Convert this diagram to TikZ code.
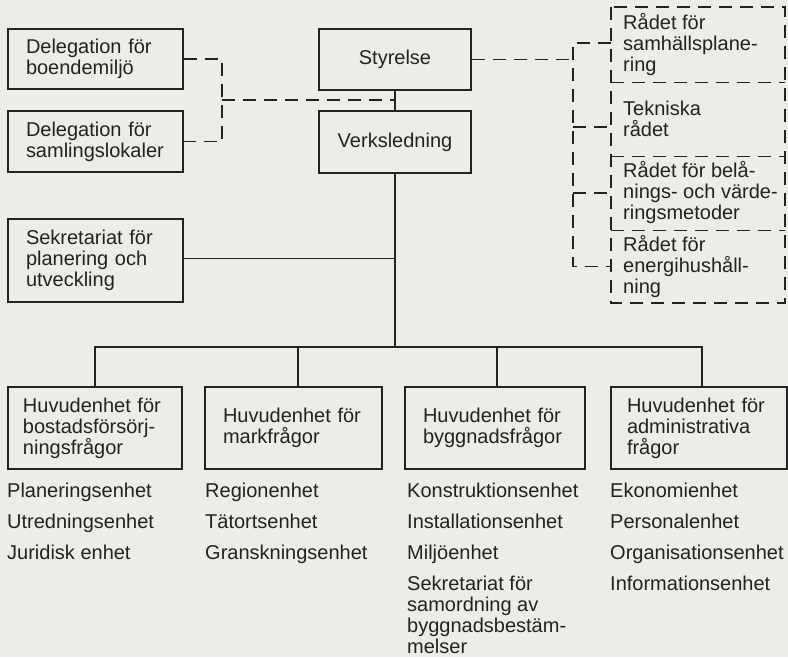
\documentclass[tikz,border=0pt]{standalone}
\usepackage{fontspec}
\setmainfont{Liberation Sans}
\usetikzlibrary{calc}
\definecolor{paper}{RGB}{236,237,232}
\definecolor{ink}{RGB}{34,34,34}
\begin{document}
\begin{tikzpicture}[x=1pt,y=-1pt,
  font=\fontsize{20}{21}\selectfont, text=ink,
  ln/.style={draw=ink, line width=1.4pt},
  dsh/.style={ln, dash pattern=on 13pt off 8pt},
  box/.style={draw=ink, line width=1.4pt, rectangle, align=left, inner ysep=0pt},
  cbox/.style={draw=ink, line width=1.4pt, rectangle, align=center, inner sep=0pt},
  sect/.style={rectangle, align=left, inner xsep=12pt, inner ysep=0pt, anchor=west},
  lst/.style={align=left, inner sep=0pt, anchor=north west}]
\useasboundingbox[fill=paper] (0,0) rectangle (788,657);

% left boxes
\node[box, text width=139pt, inner xsep=18pt, minimum height=60pt] (del1) at (95.5,59) {Delegation för\\boendemiljö};
\node[box, text width=139pt, inner xsep=18pt, minimum height=61pt] (del2) at (95.5,141.5) {Delegation för\\samlingslokaler};
\node[box, text width=139pt, inner xsep=18pt, minimum height=83pt] (sek) at (95.5,260.5) {Sekretariat för\\planering och\\utveckling};

% centre boxes
\node[cbox, minimum width=152pt, minimum height=61pt] (sty) at (395,59.5) {Styrelse};
\node[cbox, minimum width=152pt, minimum height=62pt] (verk) at (395,142) {Verksledning};

% right dashed panel sections
\node[sect, minimum height=75pt] (r1) at (611,44.5) {Rådet för\\samhällsplane-\\ring};
\node[sect, minimum height=74pt] (r2) at (611,119) {Tekniska\\rådet};
\node[sect, minimum height=74pt] (r3) at (611,193) {Rådet för belå-\\nings- och värde-\\ringsmetoder};
\node[sect, minimum height=73pt] (r4) at (611,266.5) {Rådet för\\energihushåll-\\ning};
\coordinate (pse) at (785,303);
\draw[dsh] (r1.north west) rectangle (pse);
\draw[dsh] (r1.south west) -- (r1.south west -| pse);
\draw[dsh] (r2.south west) -- (r2.south west -| pse);
\draw[dsh] (r3.south west) -- (r3.south west -| pse);

% bottom boxes
\node[box, text width=144pt, inner xsep=15pt, minimum height=82pt] (h1) at (95,428) {Huvudenhet för\\bostadsförsörj-\\ningsfrågor};
\node[box, text width=141pt, inner xsep=18pt, minimum height=82pt] (h2) at (293.5,428) {Huvudenhet för\\markfrågor};
\node[box, text width=144pt, inner xsep=18pt, minimum height=82pt] (h3) at (495,428) {Huvudenhet för\\byggnadsfrågor};
\node[box, text width=144pt, inner xsep=16pt, minimum height=82pt] (h4) at (699,428) {Huvudenhet för\\administrativa\\frågor};

% lists
\node[lst] (l1) at (7,482.5) {Planeringsenhet\\[10pt]Utredningsenhet\\[10pt]Juridisk enhet};
\node[lst] (l2) at (205,482.5) {Regionenhet\\[10pt]Tätortsenhet\\[10pt]Granskningsenhet};
\node[lst] (l3) at (407,482.5) {Konstruktionsenhet\\[10pt]Installationsenhet\\[10pt]Miljöenhet\\[10pt]Sekretariat för\\samordning av\\byggnadsbestäm-\\melser};
\node[lst] (l4) at (610,482.5) {Ekonomienhet\\[10pt]Personalenhet\\[10pt]Organisationsenhet\\[10pt]Informationsenhet};

% solid connectors
\coordinate (bus) at (395,347);
\draw[ln] (sty.south) -- (verk.north);
\draw[ln] (verk.south) -- (bus);
\coordinate (s1) at ($(sek.east)+(0,-2)$);
\draw[ln] (s1) -- (s1 -| bus);
\coordinate (d2) at ($(h2.north)+(4.5,0)$);
\coordinate (d3) at ($(h3.north)+(2,0)$);
\coordinate (d4) at ($(h4.north)+(3,0)$);
\draw[ln] (h1.north) |- (bus) -| (d4);
\draw[ln] (d2) -- (d2 |- bus);
\draw[ln] (d3) -- (d3 |- bus);

% dashed connectors, left
\coordinate (dj) at (222,100);
\draw[dsh] (del1.east) -| (dj) |- (del2.east);
\draw[dsh] (dj) -- (dj -| sty.south);

% dashed connectors, right
\coordinate (tx) at (573,0);
\coordinate (t1) at ($(r1.west)+(0,-1.5)$);
\coordinate (t2) at ($(r2.west)+(0,8)$);
\draw[dsh] (sty.east) -- (sty.east -| tx);
\draw[dsh] (t1) -- (t1 -| tx) -- (r4.west -| tx) -- (r4.west);
\draw[dsh] (t2 -| tx) -- (t2);
\draw[dsh] (r3.west -| tx) -- (r3.west);
\end{tikzpicture}
\end{document}
